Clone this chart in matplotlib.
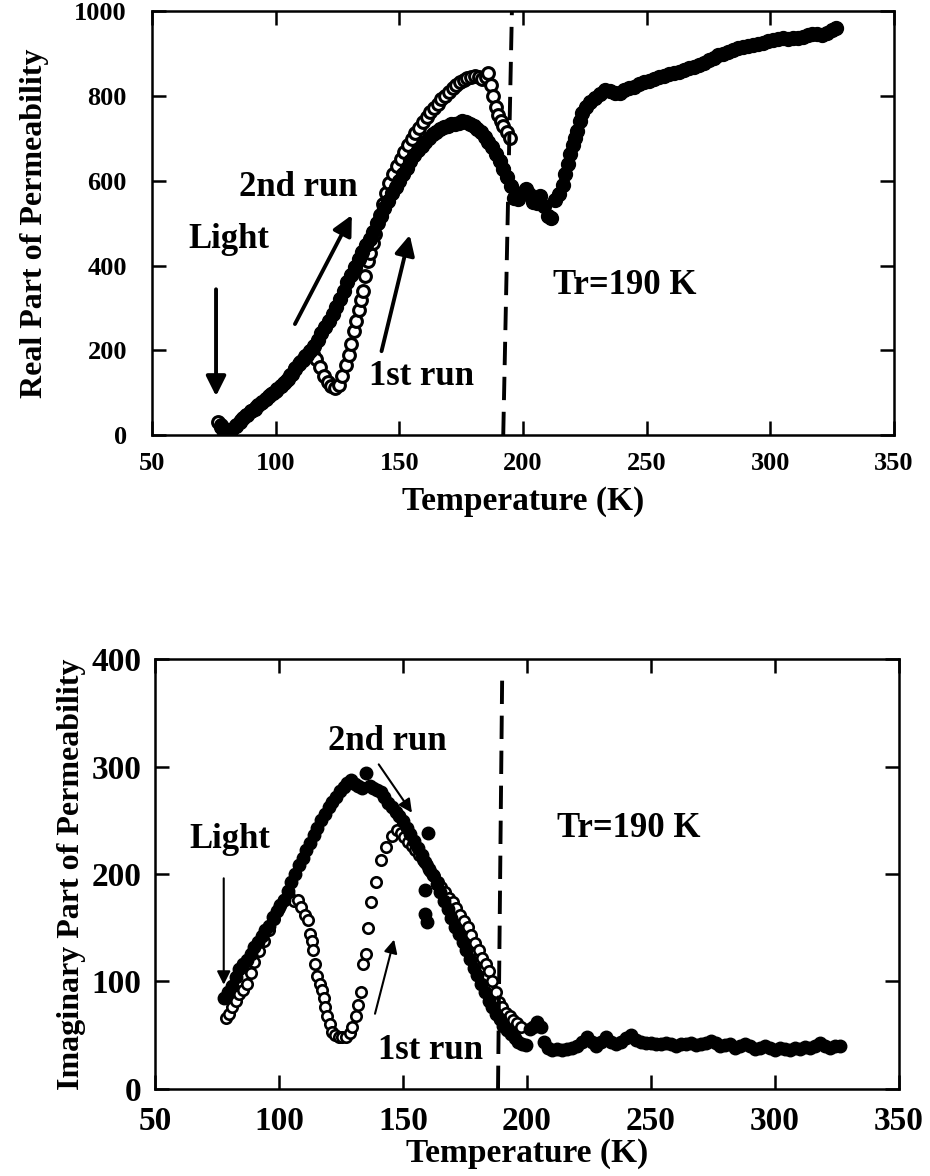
import numpy as np
import matplotlib.pyplot as plt

plt.rcParams['font.family'] = ['Liberation Serif', 'DejaVu Serif']
plt.rcParams['font.weight'] = 'bold'

# ---- real part (top panel) ----
# 2nd run, filled circles
t2_real = [78, 79, 80, 81, 82, 84, 85.5, 87, 88.5, 90, 91.5, 93, 94.5, 96, 97.5, 99,
           100.5, 102, 103.5, 105, 106.5, 108, 109.5, 111, 112.5, 114, 115.5, 117,
           118.5, 120, 121.5, 123, 124.5, 126, 127.5, 129, 130.5, 132, 133.5, 135,
           136.5, 138, 139.5, 141, 142.5, 144, 145.5, 147, 148.5, 150, 151.5, 153,
           154.5, 156, 157.5, 159, 160.5, 162, 163.5, 165, 166.5, 168, 169.5, 171,
           172.5, 174, 175.5, 177, 178.5, 180, 181.5, 183, 184.5, 186, 187.5, 189,
           190.5, 192, 193.5, 195, 196.5, 198, 199.5, 201, 202.5, 204, 205.5, 207,
           208.5, 210, 211.5,
           213, 214.5, 216, 217, 218, 219, 220, 221, 222, 223, 224, 225.5, 227, 229,
           231, 233, 235, 237, 239, 241, 243, 245, 247, 249, 251, 253, 255, 257, 259,
           261, 263, 265, 267, 269, 271, 273, 275, 277, 279, 281, 283, 285, 287, 289,
           291, 293, 295, 297, 299, 301, 303, 305, 307, 309, 311, 313, 315, 317, 319,
           321, 323, 325, 326.5]
mu2_real = [20, 8, 2, 5, 12, 22, 30, 40, 48, 56, 62, 70, 78, 85, 93, 100,
            108, 116, 124, 133, 143, 155, 167, 178, 189, 198, 210, 224,
            240, 254, 270, 286, 302, 320, 340, 360, 378, 397, 415, 432,
            448, 463, 480, 500, 518, 535, 553, 570, 586, 600, 615, 630,
            646, 660, 672, 683, 692, 702, 710, 716, 722, 727, 730, 733,
            735, 737, 740, 738, 734, 728, 722, 714, 704, 692, 680, 664,
            646, 628, 608, 588, 560, 556, 572, 580, 568, 550, 548, 565,
            540, 518, 512,
            555, 568, 590, 615, 640, 662, 684, 700, 718, 740, 760, 775, 786, 795,
            805, 815, 812, 806, 808, 814, 818, 822, 828, 832, 836, 840, 845, 848, 851,
            854, 857, 861, 865, 868, 873, 878, 884, 890, 896, 900, 904, 908, 912, 915,
            918, 920, 923, 926, 930, 933, 935, 936, 935, 936, 937, 940, 944, 947, 946,
            944, 948, 955, 960]

# 1st run, open circles
t1_real = [76.5, 78, 79.5, 81, 82.5, 84, 86, 88, 90, 92, 94, 96, 98, 100, 102, 104,
           106, 108, 110, 112, 113.5, 115, 116.5, 118, 119.5, 121, 122.5, 124, 125.5,
           127, 128.5, 129.5, 130.5, 131.5, 132.5, 133.5, 134.5, 135.5, 136.3, 137.2,
           138.2, 139.2, 140.2, 141.2, 142.2, 143.2, 144.5, 146, 147.5, 149, 150.5,
           152, 153.5, 155, 156.5, 158, 159.5, 161, 162.5, 164, 165.5, 167, 168.5,
           170, 171.5, 173, 174.5, 176, 177.5, 179, 180.5, 182, 183.5, 185, 186, 187,
           188, 189, 190, 191, 192, 193.5, 194.8]
mu1_real = [30, 25, 15, 8, 15, 25, 35, 48, 58, 66, 76, 86, 96, 104, 116, 128,
            142, 158, 172, 186, 194, 192, 180, 160, 140, 125, 115, 110, 118,
            140, 165, 190, 215, 245, 270, 295, 318, 340, 375, 410,
            430, 452, 475, 500, 520, 545, 570, 595, 615, 635, 652,
            668, 684, 698, 712, 725, 738, 750, 762, 772, 782, 792, 800,
            810, 818, 826, 832, 838, 842, 845, 846, 845, 840, 845, 855, 825,
            800, 775, 755, 740, 728, 715, 702]

# ---- imaginary part (bottom panel) ----
t2_imag = [78, 79.5, 81, 82.5, 84, 85.5, 87, 88.5, 90, 91.5, 93, 94.5, 96, 97.5, 99,
           100.5, 102, 103.5, 105, 106.5, 108, 109.5, 111, 112.5, 114, 115.5, 117,
           118.5, 120, 121.5, 123, 124.5, 126, 127.5, 129, 130.5, 132, 133.5, 135,
           136.5, 138, 139.5, 141, 142.5, 144, 145.5, 147, 148.5, 150, 151.5, 153,
           154.5, 156, 157.5, 159, 160.5, 162, 163.5, 165, 166.5, 168, 169.5, 171,
           172.5, 174, 175.5, 177, 178.5, 180, 181.5, 183, 184.5, 186, 187.5, 189,
           190.5, 192, 193.5, 195, 196.5, 198, 199.5, 201, 202.5, 204, 205.5, 207,
           208.5, 160, 158.8, 158.8, 159.8,
           210, 212, 214, 216, 218, 220, 222, 224, 226, 228, 230, 232, 234, 236, 238,
           240, 242, 244, 246, 248, 250, 252, 254, 256, 258, 260, 262, 264, 266, 268,
           270, 272, 274, 276, 278, 280, 282, 284, 286, 288, 290, 292, 294, 296, 298,
           300, 302, 304, 306, 308, 310, 312, 314, 316, 318, 320, 322, 324, 326]
mu2_imag = [85, 90, 96, 104, 112, 116, 120, 126, 132, 137, 142, 148, 152, 160, 166,
            171, 176, 184, 193, 200, 208, 215, 222, 229, 236, 243, 250,
            256, 262, 267, 272, 277, 281, 285, 287, 284, 282, 280, 294,
            282, 280, 278, 276, 272, 266, 262, 258, 254, 249, 243, 237,
            231, 224, 218, 211, 205, 199, 191, 183, 175, 167, 159, 151,
            144, 137, 129, 121, 113, 106, 98, 90, 82, 76, 70, 65,
            59, 55, 51, 47, 44, 42, 41, 56, 58, 62, 58, 44,
            38, 238, 185, 163, 155,
            36, 37, 36, 37, 38, 40, 44, 48, 44, 40, 44, 48, 44, 42, 44,
            47, 50, 46, 44, 43, 43, 42, 42, 43, 42, 40, 42, 42, 43, 41,
            42, 43, 45, 43, 40, 41, 42, 38, 40, 42, 40, 37, 38, 40, 38,
            36, 38, 37, 36, 38, 37, 39, 38, 40, 43, 40, 38, 40, 40]

t1_imag = [78.8, 80, 81, 82.5, 84, 85.5, 87, 88.5, 90, 92, 94, 96, 98, 100, 102, 104,
           106, 107.5, 109, 110.5, 111.5, 112.4, 113.2, 113.7, 114.4, 115.5, 116.4,
           117.2, 118, 118.5, 119.5, 120.5, 121.5, 122.5, 124, 125.5, 127, 128.5,
           129.5, 130.9, 132, 133, 134, 135, 136, 137.1, 139.1, 141.3, 143.3, 145.4,
           147.4, 149, 150.5, 152, 153.5, 155, 156.5, 158, 159.5, 161, 162.5, 164,
           165.5, 167, 168.5, 170, 171.5, 173, 174.5, 176, 177.5, 179, 180.5, 182,
           183.5, 184.7, 186, 187.5, 188.8, 190, 191.5, 193, 194.5, 196, 197.5]
mu1_imag = [66, 70, 76, 82, 88, 92, 98, 108, 118, 128, 138, 148, 158, 168, 176, 180,
            175, 176, 169, 162, 157, 144, 138, 129, 116, 105, 98,
            92, 85, 76, 68, 60, 53, 50, 48, 48, 48, 52,
            58, 68, 78, 90, 116, 126, 150, 174, 193, 213, 225, 235,
            241, 238, 234, 230, 226, 222, 218, 213, 208, 203, 198, 193,
            188, 183, 178, 174, 168, 162, 156, 151, 143, 136, 129, 122,
            116, 110, 100, 90, 81, 76, 71, 68, 64, 61, 58]

xticks = [50, 100, 150, 200, 250, 300, 350]

fig = plt.figure(figsize=(9.3, 11.76), dpi=100)
ax1 = fig.add_axes([0.1634, 0.630, 0.798, 0.3605])
ax2 = fig.add_axes([0.1667, 0.074, 0.800, 0.3656])


def style_axes(ax, ylim, yticks, tsize, ypad):
    ax.set_xlim(50, 350)
    ax.set_ylim(*ylim)
    ax.set_xticks(xticks)
    ax.set_yticks(yticks)
    ax.tick_params(direction='in', length=10, width=1.8, top=True, right=True,
                   labelsize=tsize, pad=12)
    ax.tick_params(axis='y', pad=ypad)
    for s in ax.spines.values():
        s.set_linewidth(1.8)
    for lab in ax.get_xticklabels() + ax.get_yticklabels():
        lab.set_fontweight('bold')


# top panel
ax1.plot(t1_real, mu1_real, 'o', mfc='white', mec='black', mew=2.2, ms=8.5)
ax1.plot(t2_real, mu2_real, 'o', mfc='black', mec='black', ms=10)
ax1.plot([192, 195.5], [0, 1000], color='black', lw=2.8, ls=(0, (6, 3)))
style_axes(ax1, (0, 1000), [0, 200, 400, 600, 800, 1000], 19, 18)
ax1.set_xlabel('Temperature (K)', fontsize=24, fontweight='bold', labelpad=8)
ax1.set_ylabel('Real Part of Permeability', fontsize=23, fontweight='bold', labelpad=18)

ax1.text(81, 462, 'Light', fontsize=25, ha='center', va='center')
ax1.text(109, 583, '2nd run', fontsize=25, ha='center', va='center')
ax1.text(159, 139, '1st run', fontsize=25, ha='center', va='center')
ax1.text(241, 354, 'Tr=190 K', fontsize=25, ha='center', va='center')
big = dict(arrowstyle='-|>', lw=2.8, color='black', mutation_scale=30, shrinkA=0, shrinkB=0)
ax1.annotate('', xy=(75.9, 92), xytext=(75.9, 344), arrowprops=big)
ax1.annotate('', xy=(130.8, 519), xytext=(107.8, 262), arrowprops=big)
ax1.annotate('', xy=(154.2, 472), xytext=(142.8, 198), arrowprops=big)

# bottom panel
ax2.plot(t1_imag, mu1_imag, 'o', mfc='white', mec='black', mew=1.9, ms=7.5)
ax2.plot(t2_imag, mu2_imag, 'o', mfc='black', mec='black', ms=9)
ax2.plot([188.3, 190], [0, 390], color='black', lw=2.8, ls=(0, (6, 3)))
style_axes(ax2, (0, 400), [0, 100, 200, 300, 400], 24, 10)
ax2.set_xlabel('Temperature (K)', fontsize=24, fontweight='bold', labelpad=1)
ax2.set_ylabel('Imaginary Part of Permeability', fontsize=23, fontweight='bold', labelpad=4)

ax2.text(80.2, 232, 'Light', fontsize=25, ha='center', va='center')
ax2.text(143.8, 323, '2nd run', fontsize=25, ha='center', va='center')
ax2.text(160.9, 36, '1st run', fontsize=25, ha='center', va='center')
ax2.text(241, 242, 'Tr=190 K', fontsize=25, ha='center', va='center')
thin = dict(arrowstyle='-|>', lw=1.5, color='black', mutation_scale=20, shrinkA=0, shrinkB=0)
ax2.annotate('', xy=(77.7, 97), xytext=(77.7, 196), arrowprops=thin)
ax2.annotate('', xy=(153.6, 257), xytext=(140.2, 302), arrowprops=thin)
ax2.annotate('', xy=(146.4, 139), xytext=(138.7, 70), arrowprops=thin)

fig.savefig('out.png', dpi=100)
